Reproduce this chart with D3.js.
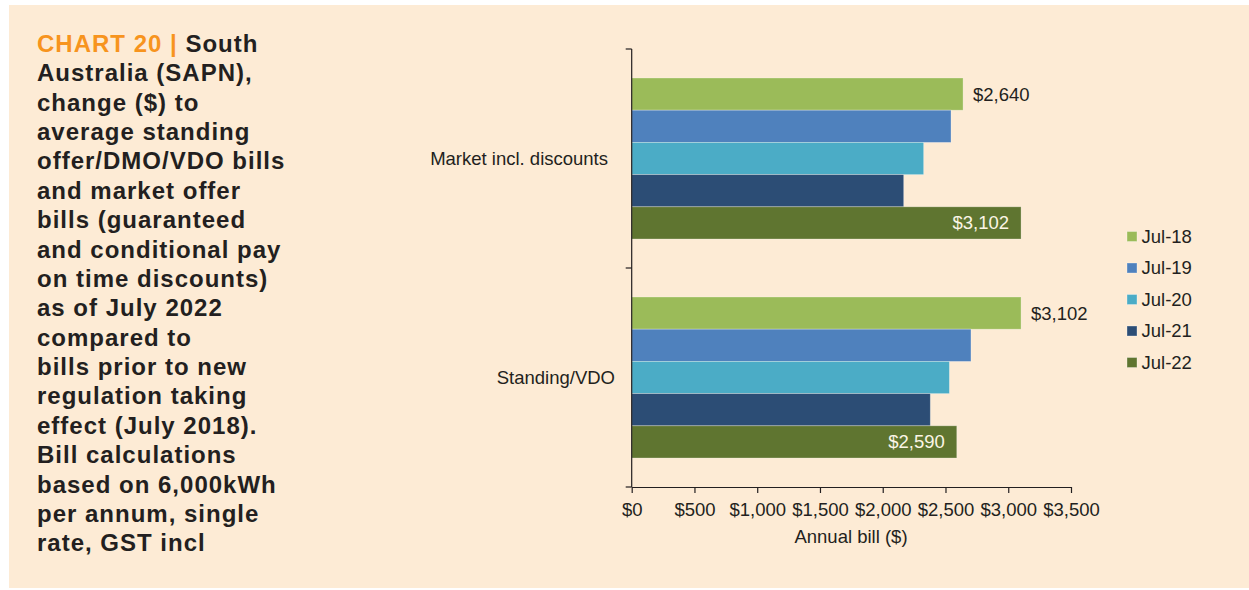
<!DOCTYPE html>
<html>
<head>
<meta charset="utf-8">
<script src="https://cdn.jsdelivr.net/npm/d3@7"></script>
<style>
  html, body { margin: 0; padding: 0; background: #ffffff; }
  svg { display: block; }
  text { font-family: "Liberation Sans", Arial, Helvetica, sans-serif; fill: #231f20; }
</style>
</head>
<body>
<svg id="chart" width="1249" height="590"></svg>
<script>
// Offer types (one bar group each), top to bottom
const categories = ["Market incl. discounts", "Standing/VDO"];
// Snapshot dates, one bar per date inside each group
const series = ["Jul-18", "Jul-19", "Jul-20", "Jul-21", "Jul-22"];
const colors = ["#9bbb59", "#4f81bd", "#4bacc6", "#2c4d75", "#5f7530"];

// Annual bill ($) per offer type, in series order
const marketBills = [2640, 2544, 2326, 2167, 3102];
const standingBills = [3102, 2703, 2531, 2379, 2590];

// Bars that carry a value label, and where the label sits
const labelled = [
  { cat: "Market incl. discounts", s: "Jul-18", inside: false },
  { cat: "Market incl. discounts", s: "Jul-22", inside: true },
  { cat: "Standing/VDO", s: "Jul-18", inside: false },
  { cat: "Standing/VDO", s: "Jul-22", inside: true }
];

const xTicks = [0, 500, 1000, 1500, 2000, 2500, 3000, 3500];

const titleLines = [
  "South",
  "Australia (SAPN),",
  "change ($) to",
  "average standing",
  "offer/DMO/VDO bills",
  "and market offer",
  "bills (guaranteed",
  "and conditional pay",
  "on time discounts)",
  "as of July 2022",
  "compared to",
  "bills prior to new",
  "regulation taking",
  "effect (July 2018).",
  "Bill calculations",
  "based on 6,000kWh",
  "per annum, single",
  "rate, GST incl"
];

const valuesByCat = {
  "Market incl. discounts": marketBills,
  "Standing/VDO": standingBills
};
const rows = [];
categories.forEach(c => series.forEach((s, i) => rows.push({ cat: c, s, v: valuesByCat[c][i], color: colors[i] })));

const svg = d3.select("#chart");
const ink = "#231f20";
const fmt = v => "$" + d3.format(",")(v);

// Panel
svg.append("rect").attr("x", 9).attr("y", 5).attr("width", 1240).attr("height", 583).attr("fill", "#fdebd5");

// Caption block
const cap = svg.append("text").attr("x", 37).attr("y", 51.7)
  .style("font-size", "24px").style("font-weight", "bold").style("letter-spacing", "1px");
titleLines.forEach((line, i) => {
  const t = cap.append("tspan").attr("x", 37).attr("dy", i === 0 ? 0 : 29.4);
  if (i === 0) {
    t.append("tspan").style("fill", "#f7941e").text("CHART 20 | ");
    t.append("tspan").text(line);
  } else {
    t.text(line);
  }
});

// Scales
const x = d3.scaleLinear().domain([0, 3500]).range([631.7, 1071]);
const y0 = d3.scaleBand().domain(categories).range([49, 487]).padding(0);
const y1 = d3.scaleBand().domain(series).range([0, y0.bandwidth()]).paddingInner(0).paddingOuter(0.9);
const colorOf = d3.scaleOrdinal().domain(series).range(colors);

// Bars
svg.append("g").selectAll("rect").data(rows).join("rect")
  .attr("x", x(0))
  .attr("y", d => y0(d.cat) + y1(d.s))
  .attr("width", d => x(d.v) - x(0))
  .attr("height", y1.bandwidth())
  .attr("fill", d => colorOf(d.s))
  .attr("stroke", "rgba(255,255,255,0.35)")
  .attr("stroke-width", 0.8);

// Value labels
const lookup = (c, s) => rows.find(r => r.cat === c && r.s === s);
svg.append("g").selectAll("text").data(labelled).join("text")
  .attr("x", d => d.inside ? x(lookup(d.cat, d.s).v) - 12 : x(lookup(d.cat, d.s).v) + 10)
  .attr("y", d => y0(d.cat) + y1(d.s) + y1.bandwidth() / 2)
  .attr("dy", "0.35em")
  .attr("text-anchor", d => d.inside ? "end" : "start")
  .style("font-size", "18.5px")
  .style("fill", d => d.inside ? "#fbf5e6" : ink)
  .text(d => fmt(lookup(d.cat, d.s).v));

// X axis
const xAxis = svg.append("g").attr("transform", `translate(0,${y0.range()[1]})`)
  .call(d3.axisBottom(x).tickValues(xTicks).tickFormat(fmt).tickSize(6).tickSizeOuter(0));
xAxis.select(".domain").attr("stroke", ink).attr("stroke-width", 1.2);
xAxis.selectAll(".tick line").attr("stroke", ink).attr("stroke-width", 1.2);
xAxis.selectAll(".tick text").attr("y", 16).style("font-size", "18.5px").style("font-family", "'Liberation Sans', Arial, sans-serif").attr("fill", ink);

svg.append("text").attr("x", 851).attr("y", 543).attr("text-anchor", "middle")
  .style("font-size", "18.5px").text("Annual bill ($)");

// Y axis: line with ticks at group boundaries
const yEdges = categories.map(c => y0(c)).concat([y0.range()[1]]);
const yAxis = svg.append("g");
yAxis.append("line").attr("x1", x(0)).attr("x2", x(0))
  .attr("y1", yEdges[0]).attr("y2", yEdges[yEdges.length - 1])
  .attr("stroke", ink).attr("stroke-width", 1.2);
yAxis.selectAll("line.tk").data(yEdges).join("line").attr("class", "tk")
  .attr("x1", x(0) - 6).attr("x2", x(0))
  .attr("y1", d => d).attr("y2", d => d)
  .attr("stroke", ink).attr("stroke-width", 1.2);

// Category labels
const catEnd = [608, 615];
yAxis.selectAll("text").data(categories).join("text")
  .attr("x", (d, i) => catEnd[i])
  .attr("y", d => y0(d) + y0.bandwidth() / 2)
  .attr("dy", "0.35em")
  .attr("text-anchor", "end")
  .style("font-size", "18.5px")
  .text(d => d);

// Legend
const legend = svg.append("g").attr("transform", "translate(1127,236.5)");
const lg = legend.selectAll("g").data(series).join("g")
  .attr("transform", (d, i) => `translate(0,${i * 31.5})`);
lg.append("rect").attr("x", 0).attr("y", -5).attr("width", 10).attr("height", 10)
  .attr("fill", d => colorOf(d)).attr("stroke", "rgba(255,255,255,0.4)").attr("stroke-width", 0.8);
lg.append("text").attr("x", 14.5).attr("dy", "0.35em").style("font-size", "18.5px").text(d => d);
</script>
</body>
</html>
